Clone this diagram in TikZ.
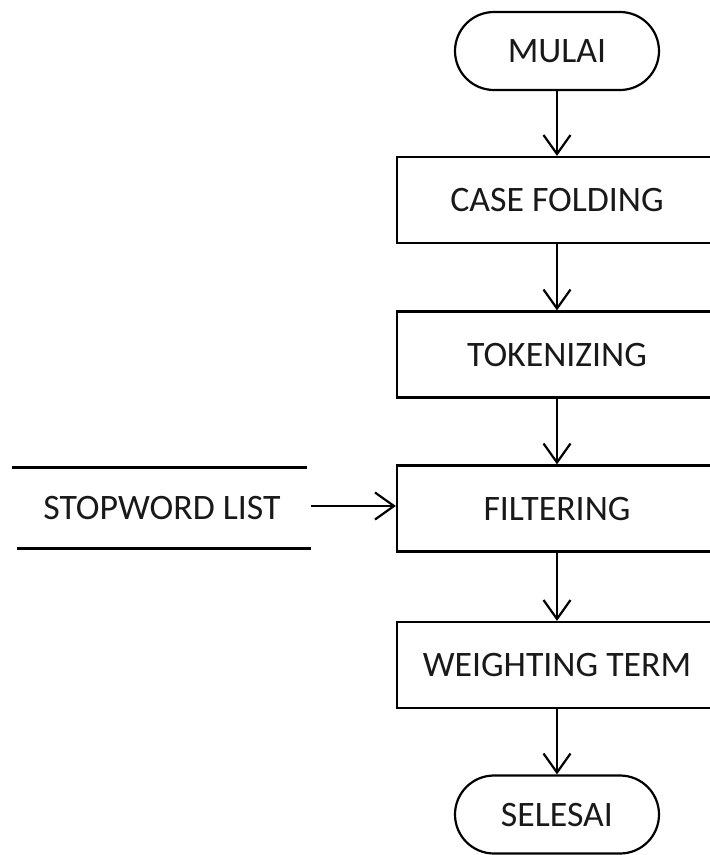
\documentclass[tikz,border=0pt]{standalone}
\usepackage{fontspec}
\setmainfont{Carlito}
\usetikzlibrary{arrows.meta}
\begin{document}
\begin{tikzpicture}[x=1pt,y=-1pt,
  every node/.style={font=\fontsize{35.8}{40}\selectfont, text=black!90, inner sep=0pt},
  process/.style={draw, line width=2.2pt, minimum width=320pt, minimum height=86pt},
  terminal/.style={draw, line width=2.2pt, rounded corners=39pt, minimum width=204pt, minimum height=78pt},
  flow/.style={line width=2.2pt, -{Straight Barb[length=19pt,width=27pt,line width=2.2pt]}},
  store/.style={line width=2.6pt}]
  \useasboundingbox (0,0) rectangle (710,855);
  \clip (0,0) rectangle (710,855);

  \node[terminal] (mulai) at (557,51) {MULAI};
  \node[process] (case) at (557,200) {CASE FOLDING};
  \node[process] (token) at (557,354.5) {TOKENIZING};
  \node[process] (filter) at (557,508.5) {FILTERING};
  \node[process] (weight) at (557,665) {WEIGHTING TERM};
  \node[terminal] (selesai) at (557,814.5) {SELESAI};

  % data store: text between two horizontal lines
  \node[minimum width=297pt, minimum height=81pt] (stop) at (162,508) {STOPWORD LIST};
  \draw[store] ([xshift=-1pt]stop.north west) -- ([xshift=-4pt]stop.north east);
  \draw[store] ([xshift=4pt]stop.south west) -- ([xshift=0pt]stop.south east);

  \draw[flow] (mulai) -- (case);
  \draw[flow] (case) -- (token);
  \draw[flow] (token) -- (filter);
  \draw[flow] (filter) -- (weight);
  \draw[flow] (weight) -- (selesai);
  \draw[flow] ([yshift=2pt]stop.east) -- ([yshift=2pt]stop.east -| filter.west);
\end{tikzpicture}
\end{document}
